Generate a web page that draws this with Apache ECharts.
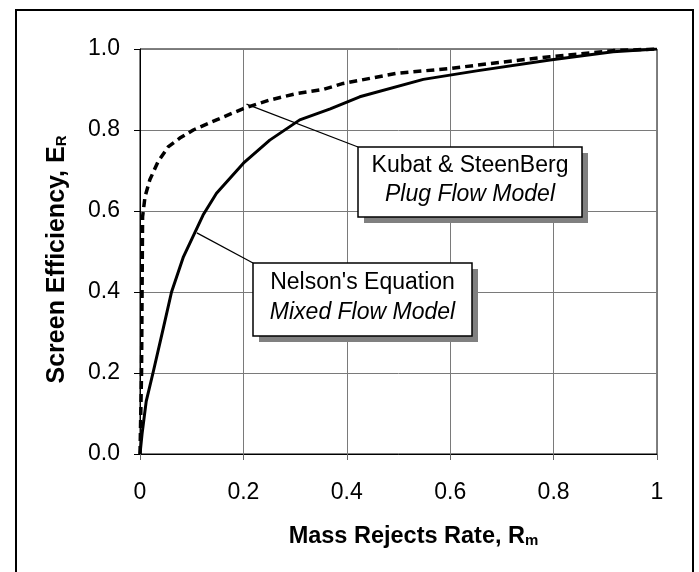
<!DOCTYPE html>
<html><head><meta charset="utf-8">
<script src="https://cdn.jsdelivr.net/npm/echarts@6/dist/echarts.min.js"></script>
<style>html,body{margin:0;padding:0;background:#fff}#c{width:699px;height:572px}</style>
</head><body><div id="c"></div>
<script>
// Nelson's Equation (Mixed Flow Model) - solid
const nelsonX = [0, 0.004, 0.012, 0.026, 0.045, 0.061, 0.084, 0.122, 0.148, 0.2, 0.251, 0.309, 0.368, 0.425, 0.548, 0.651, 0.793, 0.915, 1];
const nelsonY = [0, 0.05, 0.13, 0.205, 0.31, 0.40, 0.487, 0.59, 0.644, 0.718, 0.775, 0.825, 0.852, 0.882, 0.925, 0.946, 0.973, 0.993, 1];
// Kubat & SteenBerg (Plug Flow Model) - dashed
const kubatX = [0, 0.003, 0.004, 0.005, 0.0097, 0.019, 0.035, 0.055, 0.077, 0.103, 0.148, 0.2, 0.251, 0.303, 0.354, 0.393, 0.497, 0.6, 0.69, 0.793, 0.915, 1];
const kubatY = [0, 0.2, 0.4, 0.586, 0.635, 0.677, 0.722, 0.759, 0.78, 0.80, 0.825, 0.853, 0.874, 0.89, 0.90, 0.915, 0.94, 0.952, 0.966, 0.981, 0.996, 1];
const xTickLabels = ['0', '0.2', '0.4', '0.6', '0.8', '1'];
const yTickLabels = ['0.0', '0.2', '0.4', '0.6', '0.8', '1.0'];
const kubatText = ['Kubat & SteenBerg', 'Plug Flow Model'];
const nelsonText = ["Nelson's Equation", 'Mixed Flow Model'];
const kubatAnchor = [0.206, 0.864];
const nelsonAnchor = [0.110, 0.546];

const FONT = '"Liberation Sans", Arial, sans-serif';
const chart = echarts.init(document.getElementById('c'), null, {renderer: 'canvas'});
const zip = (xs, ys) => xs.map((x, i) => [x, ys[i]]);

chart.setOption({
  animation: false,
  backgroundColor: '#fff',
  grid: {left: 140, top: 49, right: 42, bottom: 118, show: true, borderColor: '#000', borderWidth: 1, backgroundColor: 'transparent'},
  xAxis: {
    type: 'value', min: 0, max: 1, interval: 0.2,
    name: 'Mass Rejects Rate, R{sub|m}', nameLocation: 'middle', nameGap: 71,
    nameTextStyle: {fontFamily: FONT, fontSize: 23.5, fontWeight: 'bold', color: '#000', padding: [0, 0, 0, 30],
      rich: {sub: {fontFamily: FONT, fontSize: 15, fontWeight: 'bold', color: '#000', padding: [8, 0, 0, 0]}}},
    axisLine: {lineStyle: {color: '#000', width: 1}},
    axisTick: {show: true, inside: false, length: 6, lineStyle: {color: '#666'}},
    axisLabel: {margin: 27, fontFamily: FONT, fontSize: 23, color: '#000',
      formatter: v => xTickLabels[Math.round(v / 0.2)]},
    splitLine: {show: true, lineStyle: {color: '#7a7a7a', width: 1}}
  },
  yAxis: {
    type: 'value', min: 0, max: 1, interval: 0.2,
    name: 'Screen Efficiency, E{sub|R}', nameLocation: 'middle', nameGap: 70,
    nameTextStyle: {fontFamily: FONT, fontSize: 25, fontWeight: 'bold', color: '#000', padding: [0, 16, 0, 0],
      rich: {sub: {fontFamily: FONT, fontSize: 15, fontWeight: 'bold', color: '#000', padding: [8, 0, 0, 0]}}},
    axisLine: {show: true, lineStyle: {color: '#000', width: 1}},
    axisTick: {show: true, inside: false, length: 6, lineStyle: {color: '#000'}},
    axisLabel: {margin: 20, fontFamily: FONT, fontSize: 23, color: '#000',
      formatter: v => yTickLabels[Math.round(v / 0.2)]},
    splitLine: {show: true, lineStyle: {color: '#7a7a7a', width: 1}}
  },
  series: [
    {type: 'line', name: "Nelson's Equation", data: zip(nelsonX, nelsonY), showSymbol: false, smooth: false,
      lineStyle: {color: '#000', width: 3}, z: 3},
    {type: 'line', name: 'Kubat & SteenBerg', data: zip(kubatX, kubatY), showSymbol: false, smooth: false,
      lineStyle: {color: '#000', width: 3.5, type: [8, 5]}, z: 3}
  ]
});

function box(x, y, w, h, lines) {
  const cx = x + w / 2;
  return [
    {type: 'rect', z: 100, shape: {x: x + 6, y: y + 6, width: w, height: h}, style: {fill: '#808080'}},
    {type: 'rect', z: 101, shape: {x: x, y: y, width: w, height: h}, style: {fill: '#fff', stroke: '#000', lineWidth: 1.5}},
    {type: 'text', z: 102, style: {text: lines[0], x: cx, y: y + h * 0.25 + 1, align: 'center', verticalAlign: 'middle',
      fontFamily: FONT, fontSize: 23, fill: '#000'}},
    {type: 'text', z: 102, style: {text: lines[1], x: cx, y: y + h * 0.68, align: 'center', verticalAlign: 'middle',
      fontFamily: FONT, fontSize: 23, fontStyle: 'italic', fill: '#000'}}
  ];
}
const kA = chart.convertToPixel({gridIndex: 0}, kubatAnchor);
const nA = chart.convertToPixel({gridIndex: 0}, nelsonAnchor);
const kBox = {x: 358, y: 147, w: 224, h: 70};
const nBox = {x: 253, y: 263, w: 219, h: 73};
chart.setOption({
  graphic: [
    {type: 'rect', z: 200, silent: true, shape: {x: 16, y: 10, width: 677, height: 600}, style: {fill: null, stroke: '#000', lineWidth: 2}},
    {type: 'line', z: 99, shape: {x1: kA[0], y1: kA[1], x2: kBox.x, y2: kBox.y}, style: {stroke: '#000', lineWidth: 1.2}},
    {type: 'line', z: 99, shape: {x1: nA[0], y1: nA[1], x2: nBox.x, y2: nBox.y}, style: {stroke: '#000', lineWidth: 1.2}},
    ...box(kBox.x, kBox.y, kBox.w, kBox.h, kubatText),
    ...box(nBox.x, nBox.y, nBox.w, nBox.h, nelsonText)
  ]
});
</script>
</body></html>
